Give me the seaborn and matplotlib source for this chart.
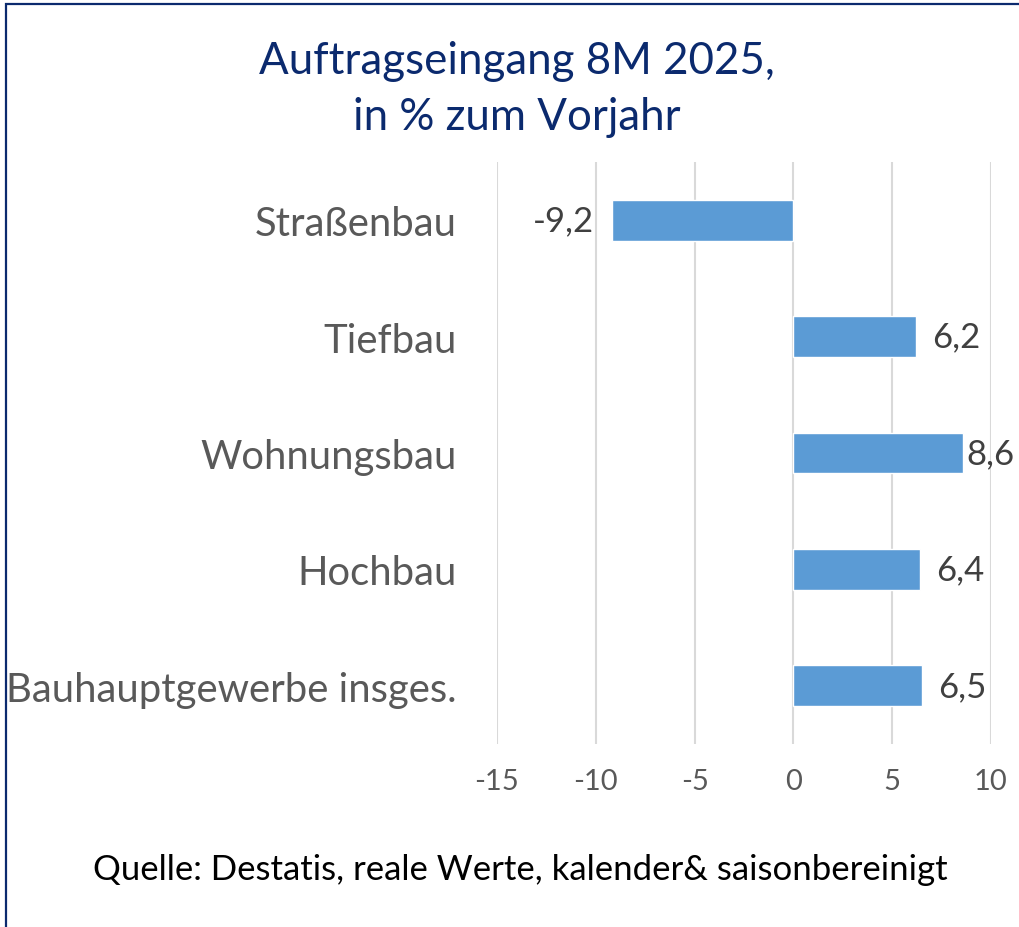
import matplotlib
matplotlib.use("Agg")
import matplotlib.pyplot as plt
from matplotlib.patches import Rectangle
import seaborn as sns
import pandas as pd

# data (top to bottom as in the chart)
categories = ["Straßenbau", "Tiefbau", "Wohnungsbau", "Hochbau", "Bauhauptgewerbe insges."]
values = [-9.2, 6.2, 8.6, 6.4, 6.5]
x_ticks = [-15, -10, -5, 0, 5, 10]

title_lines = ["Auftragseingang 8M 2025,", "in % zum Vorjahr"]
source_text = "Quelle: Destatis, reale Werte, kalender& saisonbereinigt"

navy = "#0B2A6E"
bar_color = "#5B9BD5"

sns.set_theme(style="white")
plt.rcParams["font.family"] = ["Lato", "DejaVu Sans"]

df = pd.DataFrame({"Kategorie": categories, "Wert": values})

fig = plt.figure(figsize=(10.2, 9.28), dpi=100)
ax = fig.add_axes([497 / 1020, 1 - 745 / 928, 494 / 1020, 582 / 928])

sns.barplot(data=df, x="Wert", y="Kategorie", orient="h", color=bar_color,
            width=0.35, saturation=1, ax=ax, zorder=3)

ax.set_xlim(-15, 10)
ax.set_ylim(4.5, -0.5)
ax.set_xticks(x_ticks)
ax.set_xticklabels([str(t) for t in x_ticks])
ax.xaxis.grid(True, color="#D9D9D9", linewidth=1.5, zorder=0)
ax.yaxis.grid(False)
for s in ax.spines.values():
    s.set_visible(False)
ax.tick_params(axis="x", length=0, pad=17, labelsize=21, labelcolor="#595959")
ax.tick_params(axis="y", length=0, pad=29, labelsize=28.8, labelcolor="#595959")
ax.set_xlabel("")
ax.set_ylabel("")

# value labels
for i, v in enumerate(values):
    label = f"{v:.1f}".replace(".", ",")
    if v < 0:
        ax.annotate(label, (v, i), xytext=(-13, 0), textcoords="offset points",
                    ha="right", va="center", fontsize=25, color="#404040")
    else:
        off = 2 if v > 8 else 12
        ax.annotate(label, (v, i), xytext=(off, 0), textcoords="offset points",
                    ha="left", va="center", fontsize=25, color="#404040")

fig.text(0.507, 1 - 62 / 928, title_lines[0], ha="center", va="center",
         fontsize=31.6, color=navy)
fig.text(0.507, 1 - 117 / 928, title_lines[1], ha="center", va="center",
         fontsize=31.6, color=navy)
fig.text(0.51, 1 - 870 / 928, source_text, ha="center", va="center",
         fontsize=25, color="black")

# frame (only left and top edges are visible in the crop)
fig.patches.append(Rectangle((6 / 1020, -0.1), 2, 1.1 - 5 / 928,
                             transform=fig.transFigure, fill=False,
                             edgecolor=navy, linewidth=1.6))

fig.savefig("out.png", dpi=100)
